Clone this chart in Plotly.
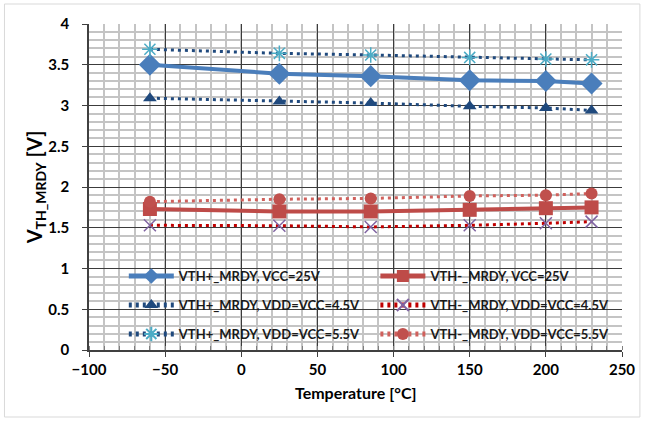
import plotly.graph_objects as go

temps = [-60, 25, 85, 150, 200, 230]

vth_plus_vcc25 = [3.50, 3.39, 3.36, 3.31, 3.30, 3.27]
vth_plus_45 = [3.09, 3.05, 3.03, 2.99, 2.97, 2.94]
vth_plus_55 = [3.69, 3.64, 3.62, 3.59, 3.57, 3.56]
vth_minus_vcc25 = [1.73, 1.70, 1.70, 1.72, 1.74, 1.75]
vth_minus_45 = [1.53, 1.525, 1.51, 1.53, 1.555, 1.575]
vth_minus_55 = [1.82, 1.85, 1.86, 1.89, 1.90, 1.92]

names = [
    "VTH+_MRDY, VCC=25V",
    "VTH-_MRDY, VCC=25V",
    "VTH+_MRDY, VDD=VCC=4.5V",
    "VTH-_MRDY, VDD=VCC=4.5V",
    "VTH+_MRDY, VDD=VCC=5.5V",
    "VTH-_MRDY, VDD=VCC=5.5V",
]

FONT = "Lato"
W, H = 647, 421
L, R, T, B = 89, 22, 24, 71
pw, ph = W - L - R, H - T - B


def px(x):
    return (x - L) / pw


def py(y):
    return (H - B - y) / ph


series = [
    (vth_plus_vcc25, dict(color="#4A7EBB", width=4), dict(symbol="diamond", size=17, color="#4A7EBB")),
    (vth_minus_vcc25, dict(color="#BE4B48", width=4), dict(symbol="square", size=14, color="#BE4B48")),
    (vth_plus_45, dict(color="#1F497D", width=3, dash="3px,4px"), dict(symbol="triangle-up", size=12, color="#1F497D")),
    (vth_minus_45, dict(color="#C00000", width=3, dash="3px,4px"), dict(symbol="x-thin-open", size=12, color="#8064A2", line=dict(color="#8064A2", width=1.5))),
    (vth_plus_55, dict(color="#1F497D", width=3, dash="3px,4px"), dict(symbol="asterisk-open", size=13, color="#4BACC6", line=dict(color="#4BACC6", width=1.5))),
    (vth_minus_55, dict(color="#D0605C", width=3, dash="3px,4px"), dict(symbol="circle", size=12, color="#C0504D")),
]

fig = go.Figure()
legend_ids = ["legend", "legend2", "legend3", "legend4", "legend5", "legend6"]
for i, (vals, ln, mk) in enumerate(series):
    fig.add_trace(go.Scatter(
        x=temps, y=vals, name=names[i], mode="lines+markers",
        line=ln, marker=mk, legend=legend_ids[i],
    ))

# legend positions (pixels)
col_x = [124, 377]
row_y = [276, 305, 334]
leg_layout = {}
for i, lid in enumerate(legend_ids):
    c = i % 2
    r = i // 2
    leg_layout[lid] = dict(
        x=px(col_x[c]), y=py(row_y[r]), xanchor="left", yanchor="middle",
        bgcolor="rgba(0,0,0,0)", borderwidth=0, itemwidth=45, itemsizing="constant",
        font=dict(family=FONT, size=13, color="#1a1a1a", weight=700),
    )

fig.update_layout(
    width=W, height=H,
    margin=dict(l=L, r=R, t=T, b=B, pad=0),
    paper_bgcolor="white", plot_bgcolor="white",
    showlegend=True,
    font=dict(family=FONT, color="black"),
    **leg_layout,
)

fig.update_xaxes(
    range=[-100, 250], dtick=50, tick0=-100,
    showgrid=True, gridcolor="#3C3C3C", gridwidth=1.2,
    minor=dict(dtick=10, showgrid=True, gridcolor="#C4C4C4", gridwidth=1.5,
               ticks="inside", ticklen=4, tickcolor="#7F7F7F"),
    showline=True, linecolor="#404040", linewidth=1.5,
    ticks="outside", ticklen=5, tickcolor="#404040",
    tickfont=dict(family=FONT, size=15, color="black", weight=700),
    zeroline=False,
)
fig.update_yaxes(
    range=[0, 4], dtick=0.5,
    showgrid=True, gridcolor="#3C3C3C", gridwidth=1.2,
    minor=dict(dtick=0.1, showgrid=True, gridcolor="#C4C4C4", gridwidth=1.5),
    showline=True, linecolor="#404040", linewidth=1.5,
    ticks="outside", ticklen=5, tickcolor="#404040", ticklabelstandoff=10,
    tickfont=dict(family=FONT, size=15, color="black", weight=700),
    zeroline=False,
)

# white legend box covering gridlines
fig.add_shape(type="rect", xref="paper", yref="paper",
              x0=px(107), x1=px(612), y0=py(347), y1=py(264),
              fillcolor="white", line=dict(width=0), layer="between")
# outer chart border
fig.add_shape(type="rect", xref="paper", yref="paper",
              x0=px(4), x1=px(643), y0=py(417), y1=py(4),
              fillcolor="rgba(0,0,0,0)", line=dict(color="#D9D9D9", width=1), layer="above")

fig.add_annotation(text="V<sub>TH_MRDY</sub> [V]", xref="paper", yref="paper",
                   x=px(35), y=py(187), textangle=-90, showarrow=False,
                   xanchor="center", yanchor="middle",
                   font=dict(family=FONT, size=20, color="black", weight=700))
fig.add_annotation(text="Temperature [°C]", xref="paper", yref="paper",
                   x=px(357), y=py(393), showarrow=False,
                   xanchor="center", yanchor="middle",
                   font=dict(family=FONT, size=16, color="black", weight=700))

fig.write_html("out.html")
